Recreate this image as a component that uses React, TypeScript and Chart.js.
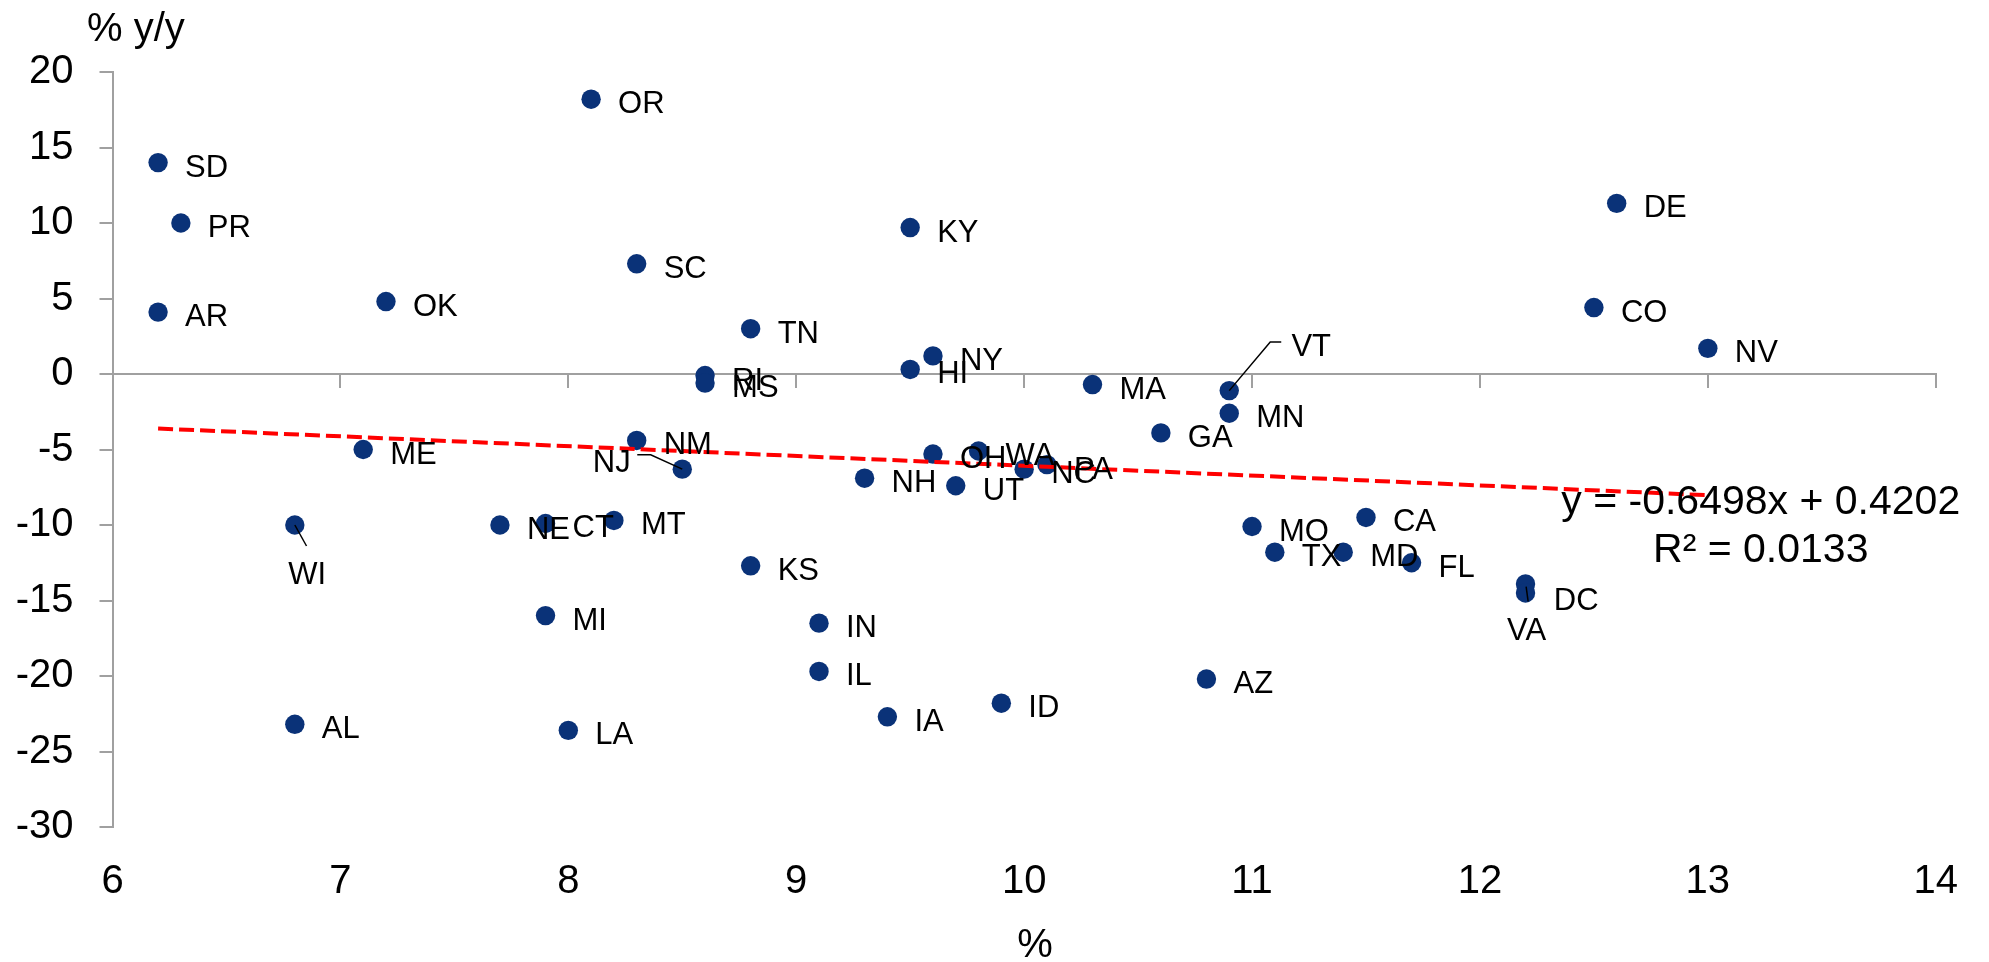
import React, { useEffect, useRef } from 'react';
import { Chart, registerables } from 'chart.js';

Chart.register(...registerables);

// ---- Data ----
const states = ['SD', 'PR', 'AR', 'OR', 'OK', 'SC', 'KY', 'TN', 'RI', 'MS', 'NY', 'HI', 'MA', 'VT', 'MN', 'GA', 'OH', 'WA', 'NC', 'PA', 'NM', 'NJ', 'ME', 'WI', 'AL', 'NE', 'CT', 'MT', 'MI', 'LA', 'NH', 'UT', 'KS', 'IN', 'IL', 'IA', 'ID', 'AZ', 'MO', 'TX', 'CA', 'MD', 'FL', 'DC', 'VA', 'DE', 'CO', 'NV'];
const xValues = [6.2, 6.3, 6.2, 8.1, 7.2, 8.3, 9.5, 8.8, 8.6, 8.6, 9.6, 9.5, 10.3, 10.9, 10.9, 10.6, 9.6, 9.8, 10.0, 10.1, 8.3, 8.5, 7.1, 6.8, 6.8, 7.7, 7.9, 8.2, 7.9, 8.0, 9.3, 9.7, 8.8, 9.1, 9.1, 9.4, 9.9, 10.8, 11.0, 11.1, 11.5, 11.4, 11.7, 12.2, 12.2, 12.6, 12.5, 13.0];
const yValues = [14.0, 10.0, 4.1, 18.2, 4.8, 7.3, 9.7, 3.0, -0.1, -0.6, 1.2, 0.3, -0.7, -1.1, -2.6, -3.9, -5.3, -5.1, -6.3, -6.0, -4.4, -6.3, -5.0, -10.0, -23.2, -10.0, -9.9, -9.7, -16.0, -23.6, -6.9, -7.4, -12.7, -16.5, -19.7, -22.7, -21.8, -20.2, -10.1, -11.8, -9.5, -11.8, -12.5, -13.9, -14.5, 11.3, 4.4, 1.7];

const TREND_SLOPE = -0.6498;
const TREND_INTERCEPT = 0.4202;
const equationText = 'y = -0.6498x + 0.4202';
const r2Text = 'R\u00B2 = 0.0133';
const yAxisTitle = '% y/y';
const xAxisTitle = '%';

const X_MIN = 6, X_MAX = 14, X_STEP = 1;
const Y_MIN = -30, Y_MAX = 20, Y_STEP = 5;

// ---- Styling / label placement (pixels relative to the point) ----
const FONT = '"Liberation Sans", Arial, Helvetica, sans-serif';
const NAVY = '#0a3278';
const AXIS_GREY = '#a0a0a0';
const DEFAULT_LABEL_OFFSET: [number, number] = [27, 14];
const labelOffsets: Record<string, [number, number]> = {
  WI: [-6.5, 58.5],
  NJ: [-89.5, 2.4],
  VT: [62.2, -34.3],
  VA: [-18.4, 47.5],
  DC: [28.3, 26],
};
const leaderLines: Record<string, [number, number][]> = {
  WI: [[0, 0], [11.7, 21]],
  NJ: [[-45, -14.3], [-31.6, -14.3], [0, 0]],
  VT: [[0, 0], [41, -48.6], [52, -48.6]],
  VA: [[0.6, -6.3], [2.6, 8.4]],
};

const trendX = [Math.min(...xValues), Math.max(...xValues)];

const labelPlugin = {
  id: 'stateLabels',
  afterDatasetsDraw(chart: any) {
    const ctx = chart.ctx;
    const meta = chart.getDatasetMeta(1);
    ctx.save();
    ctx.strokeStyle = '#000';
    ctx.lineWidth = 1.5;
    meta.data.forEach((pt: any, i: number) => {
      const lead = leaderLines[states[i]];
      if (!lead) return;
      ctx.beginPath();
      lead.forEach(([dx, dy], k) => {
        if (k === 0) ctx.moveTo(pt.x + dx, pt.y + dy);
        else ctx.lineTo(pt.x + dx, pt.y + dy);
      });
      ctx.stroke();
    });
    ctx.fillStyle = '#000';
    ctx.textAlign = 'left';
    ctx.textBaseline = 'alphabetic';
    ctx.font = `31px ${FONT}`;
    meta.data.forEach((pt: any, i: number) => {
      const off = labelOffsets[states[i]] || DEFAULT_LABEL_OFFSET;
      ctx.fillText(states[i], pt.x + off[0], pt.y + off[1]);
    });
    // trendline equation
    const area = chart.chartArea;
    ctx.textAlign = 'center';
    ctx.font = `41px ${FONT}`;
    const cx = area.right - 175;
    ctx.fillText(equationText, cx, area.top + 441.6);
    ctx.fillText(r2Text, cx, area.top + 490);
    // axis titles
    ctx.font = `40px ${FONT}`;
    ctx.textAlign = 'left';
    ctx.fillText(yAxisTitle, 87, 40.7);
    ctx.textAlign = 'center';
    ctx.fillText(xAxisTitle, (area.left + area.right) / 2 + 11, 957);
    ctx.restore();
  },
};

export default function App() {
  const canvasRef = useRef<HTMLCanvasElement>(null);

  useEffect(() => {
    if (!canvasRef.current) return;
    const chart = new Chart(canvasRef.current, {
      type: 'scatter',
      data: {
        datasets: [
          {
            type: 'line',
            label: 'Trend',
            data: trendX.map((x) => ({ x, y: TREND_SLOPE * x + TREND_INTERCEPT })),
            borderColor: '#ff0000',
            borderWidth: 4,
            borderDash: [15, 6],
            pointRadius: 0,
            fill: false,
            order: 0,
          } as any,
          {
            type: 'scatter',
            label: 'States',
            data: xValues.map((x, i) => ({ x, y: yValues[i] })),
            pointRadius: 9.7,
            pointBackgroundColor: NAVY,
            pointBorderWidth: 0,
            borderWidth: 0,
            order: 1,
          } as any,
        ],
      },
      options: {
        responsive: true,
        maintainAspectRatio: false,
        devicePixelRatio: 1,
        animation: false,
        events: [],
        layout: { padding: { top: 72, right: 53, left: 0, bottom: 0 } },
        plugins: { legend: { display: false }, tooltip: { enabled: false } },
        scales: {
          x: {
            type: 'linear',
            position: 'bottom',
            min: X_MIN,
            max: X_MAX,
            ticks: { stepSize: X_STEP, font: { family: FONT, size: 40 }, color: '#000', padding: 31 },
            grid: { display: false, drawTicks: false },
            border: { display: false },
            afterFit: (s: any) => { s.height = 135; },
          },
          x2: {
            type: 'linear',
            axis: 'x',
            position: { y: 0 },
            min: X_MIN,
            max: X_MAX,
            ticks: { stepSize: X_STEP, display: false },
            grid: { drawOnChartArea: false, drawTicks: true, tickLength: 13, color: AXIS_GREY, lineWidth: 2 },
            border: { display: true, color: AXIS_GREY, width: 2 },
          },
          y: {
            type: 'linear',
            position: 'left',
            min: Y_MIN,
            max: Y_MAX,
            ticks: { stepSize: Y_STEP, font: { family: FONT, size: 40 }, color: '#000', padding: 26 },
            grid: { drawOnChartArea: false, drawTicks: true, tickLength: 13, color: AXIS_GREY, lineWidth: 2 },
            border: { display: true, color: AXIS_GREY, width: 2 },
            afterFit: (s: any) => { s.width = 112.5; },
          },
        } as any,
      },
      plugins: [labelPlugin],
    });
    return () => chart.destroy();
  }, []);

  return (
    <div style={{ position: 'fixed', left: 0, top: 0, width: 1989, height: 962, background: '#fff' }}>
      <canvas ref={canvasRef} />
    </div>
  );
}
